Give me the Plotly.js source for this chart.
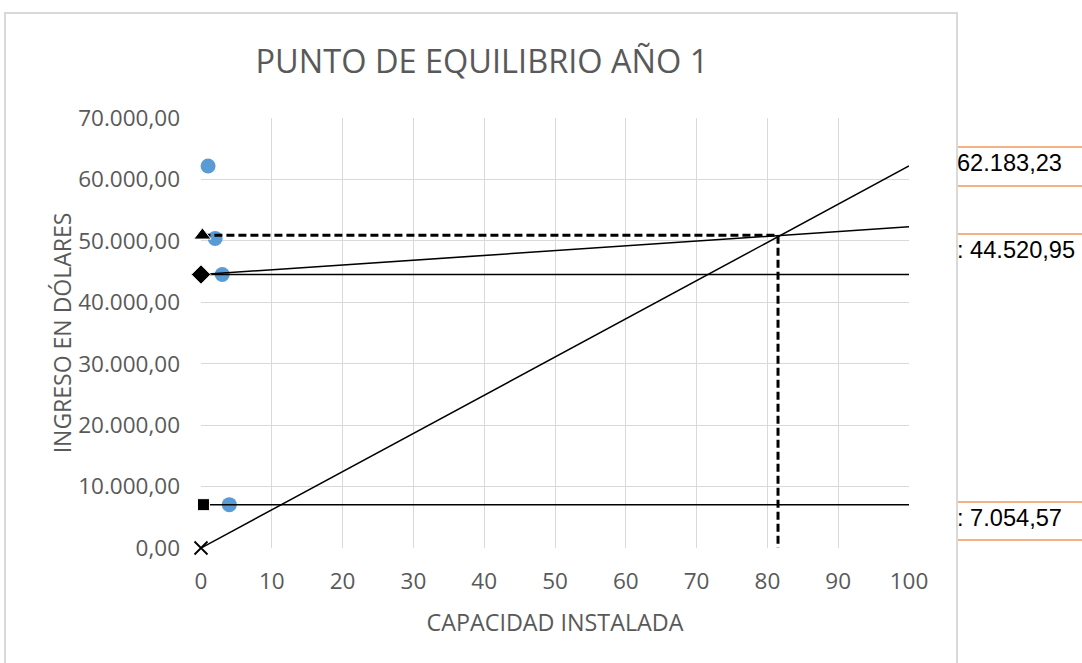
<!DOCTYPE html>
<html><head><meta charset="utf-8">
<script src="https://cdn.plot.ly/plotly-3.0.1.min.js"></script>
<style>
html,body{margin:0;padding:0;background:#fff;width:1082px;height:663px;overflow:hidden;position:relative;}
#frame{position:absolute;left:4px;top:12px;width:950px;height:660px;border:2px solid #d9d9d9;background:#fff;z-index:2;}
#chart{width:950px;height:649px;}
.rule{position:absolute;left:958px;width:124px;height:2px;background:#f4b183;}
.lbl{position:absolute;left:957px;font-family:"Liberation Sans",Arial,sans-serif;font-size:23.6px;color:#000;line-height:24px;white-space:nowrap;}
</style></head>
<body>
<div class="rule" style="top:146px"></div>
<div class="rule" style="top:185px"></div>
<div class="rule" style="top:233px"></div>
<div class="rule" style="top:501px"></div>
<div class="rule" style="top:539px"></div>
<div class="lbl" id="l1" style="top:151px"></div>
<div class="lbl" id="l2" style="top:238px"></div>
<div class="lbl" id="l3" style="top:506px"></div>
<div id="frame"><div id="chart"></div></div>
<script>
// Data
const tituloGrafico = "PUNTO DE EQUILIBRIO AÑO 1";
const tituloEjeX = "CAPACIDAD INSTALADA";
const tituloEjeY = "INGRESO EN DÓLARES";
const etiquetasDerecha = ["62.183,23", ": 44.520,95", ": 7.054,57"];

const puntosX = [1, 2, 3, 4];
const puntosY = [62183.23, 50400, 44520.95, 7054.57];

const ingresoX = [0, 100];
const ingresoY = [0, 62183.23];

const costoTotalX = [0, 101.3];
const costoTotalY = [44520.95, 52400];

const costoFijoX = [0, 100];
const costoFijoY = [44520.95, 44520.95];

const costoVariableX = [0.35, 100];
const costoVariableY = [7054.57, 7054.57];

const equilibrioX = [0.2, 81.5, 81.5];
const equilibrioY = [50900, 50900, 0];

document.getElementById('l1').textContent = etiquetasDerecha[0];
document.getElementById('l2').textContent = etiquetasDerecha[1];
document.getElementById('l3').textContent = etiquetasDerecha[2];

const negro = '#000000';
const traces = [
  {x: puntosX, y: puntosY, mode: 'markers', type: 'scatter', cliponaxis: false,
   marker: {color: '#5b9bd5', size: 15, opacity: 1, line: {width: 0}}},
  {x: ingresoX, y: ingresoY, mode: 'lines+markers', type: 'scatter', cliponaxis: false,
   line: {color: negro, width: 1.5},
   marker: {symbol: 'x-thin', size: [13, 0], opacity: 1, color: negro, line: {color: negro, width: 1.8}}},
  {x: costoFijoX, y: costoFijoY, mode: 'lines', type: 'scatter', cliponaxis: false,
   line: {color: negro, width: 1.5}},
  {x: costoTotalX, y: costoTotalY, mode: 'lines+markers', type: 'scatter', cliponaxis: false,
   line: {color: negro, width: 1.5},
   marker: {symbol: 'diamond', size: [15, 0], opacity: 1, color: negro}},
  {x: costoVariableX, y: costoVariableY, mode: 'lines+markers', type: 'scatter', cliponaxis: false,
   line: {color: negro, width: 1.5},
   marker: {symbol: 'square', size: [12, 0], opacity: 1, color: negro}},
  {x: equilibrioX, y: equilibrioY, mode: 'lines+markers', type: 'scatter', cliponaxis: false,
   line: {color: negro, width: 3, dash: '8px,4px'},
   marker: {symbol: 'triangle-up', size: [15, 0, 0], opacity: 1, color: negro}}
];

const fuente = '"Open Sans", sans-serif';
const gris = '#595959';
const layout = {
  width: 950, height: 649,
  margin: {l: 195, r: 47, t: 104, b: 115},
  paper_bgcolor: '#ffffff', plot_bgcolor: '#ffffff',
  showlegend: false, hovermode: false,
  separators: ',.',
  font: {family: fuente, color: gris},
  title: {text: tituloGrafico, font: {family: fuente, size: 32.5, color: gris},
          x: 0.501, xref: 'container', xanchor: 'center', y: 0.926, yref: 'container', yanchor: 'middle'},
  xaxis: {range: [0, 100], dtick: 10, tick0: 0, showgrid: true, gridcolor: '#d9d9d9', gridwidth: 1,
          zeroline: false, showline: false, ticks: '', ticklabelstandoff: 17,
          tickfont: {family: fuente, size: 22.5, color: gris},
          title: {text: tituloEjeX, font: {family: fuente, size: 23.3, color: gris}, standoff: 20},
          automargin: false, fixedrange: true},
  yaxis: {range: [0, 70000], dtick: 10000, tick0: 0, tickformat: ',.2f', showgrid: true, gridcolor: '#d9d9d9', gridwidth: 1,
          zeroline: false, showline: false, ticks: '', ticklabelstandoff: 20,
          tickfont: {family: fuente, size: 22.5, color: gris},
          title: {text: tituloEjeY, font: {family: fuente, size: 23, color: gris}, standoff: 0},
          automargin: false, fixedrange: true}
};

Plotly.newPlot('chart', traces, layout, {displayModeBar: false, staticPlot: true});
</script>
</body></html>
